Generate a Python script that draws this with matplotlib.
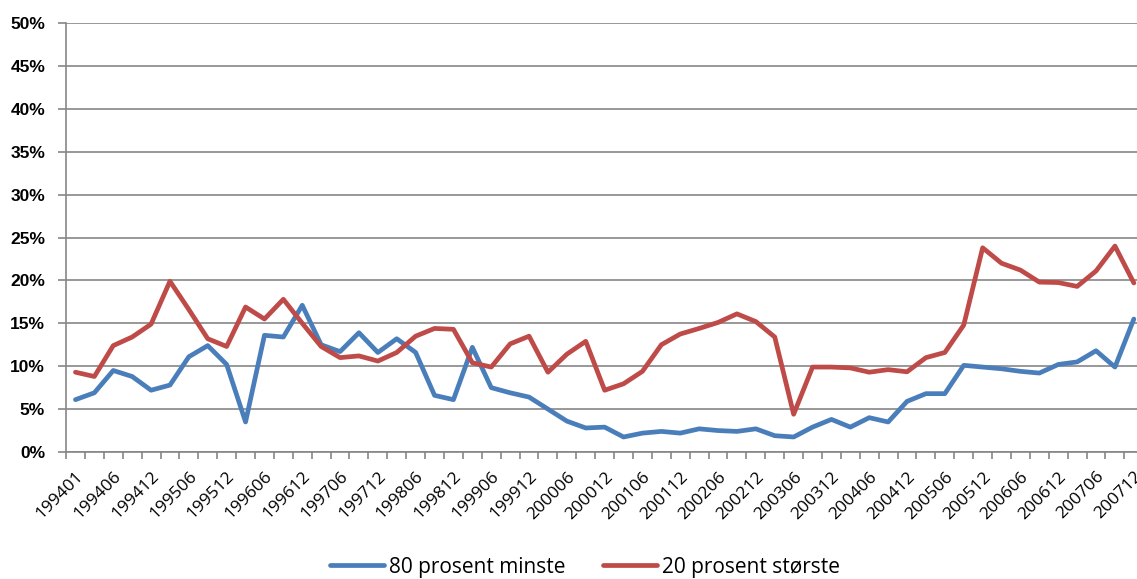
import matplotlib
matplotlib.use("Agg")
import matplotlib.pyplot as plt
import numpy as np

periods = ["199401", "199403", "199406", "199409", "199412"]
for yr in range(1995, 2008):
    for m in ["03", "06", "09", "12"]:
        periods.append(f"{yr}{m}")

small80 = [6.1, 6.9, 9.5, 8.8, 7.2, 7.8, 11.1, 12.4, 10.2, 3.5,
           13.6, 13.4, 17.1, 12.5, 11.7, 13.9, 11.6, 13.2, 11.6, 6.6,
           6.1, 12.2, 7.5, 6.9, 6.4, 5.0, 3.6, 2.8, 2.9, 1.75,
           2.2, 2.4, 2.2, 2.7, 2.5, 2.4, 2.7, 1.9, 1.75, 2.9,
           3.8, 2.9, 4.0, 3.5, 5.9, 6.8, 6.8, 10.1, 9.9, 9.7,
           9.4, 9.2, 10.2, 10.5, 11.8, 9.9, 15.5]
large20 = [9.3, 8.8, 12.4, 13.4, 14.9, 19.9, 16.6, 13.2, 12.3, 16.9,
           15.5, 17.8, 15.0, 12.3, 11.0, 11.2, 10.6, 11.6, 13.5, 14.4,
           14.3, 10.4, 9.9, 12.6, 13.5, 9.3, 11.4, 12.9, 7.2, 7.95,
           9.4, 12.5, 13.75, 14.4, 15.1, 16.1, 15.2, 13.4, 4.4, 9.9,
           9.9, 9.8, 9.3, 9.6, 9.35, 11.0, 11.6, 14.8, 23.8, 22.0,
           21.2, 19.8, 19.75, 19.3, 21.1, 24.0, 19.7]

series_names = ["80 prosent minste", "20 prosent største"]
colors = ["#4A7EBB", "#BE4B48"]
yticks = list(range(0, 55, 5))

W, H = 1137, 579
fig = plt.figure(figsize=(W / 100, H / 100), dpi=100)
n = len(periods)
step = 18.9
left = 66
ax = fig.add_axes([left / W, (H - 452) / H, n * step / W, (452 - 23) / H])

x = np.arange(n)
ax.plot(x, small80, color=colors[0], lw=3.4, label=series_names[0], solid_capstyle="round", solid_joinstyle="round")
ax.plot(x, large20, color=colors[1], lw=3.4, label=series_names[1], solid_capstyle="round", solid_joinstyle="round")

ax.set_xlim(-0.5, n - 0.5)
ax.set_ylim(0, 50)

grid_c = "#868686"
ax.set_yticks(yticks)
ax.set_yticklabels([f"{v}%" for v in yticks], fontweight="bold", fontsize=12.5, family="Liberation Sans")
ax.yaxis.grid(True, color=grid_c, lw=1.2)
ax.set_axisbelow(True)
ax.tick_params(axis="y", length=6, width=1.2, color=grid_c, pad=9)

ax.set_xticks(x[::2])
ax.set_xticklabels(periods[::2], rotation=45, ha="right", rotation_mode="anchor",
                   fontsize=12.5, family="Open Sans")
ax.tick_params(axis="x", which="major", length=0, pad=12)
ax.set_xticks(np.arange(-0.5, n, 1), minor=True)
ax.tick_params(axis="x", which="minor", length=5, width=1.2, color=grid_c)

for s in ["top", "right"]:
    ax.spines[s].set_visible(False)
for s in ["left", "bottom"]:
    ax.spines[s].set_color(grid_c)
    ax.spines[s].set_linewidth(1.2)

fig.legend(loc="center", bbox_to_anchor=(585 / W, 1 - 567 / H), ncol=2, frameon=False,
           prop={"family": "Open Sans", "size": 15}, handlelength=2.6, handletextpad=0.25,
           columnspacing=1.8)

fig.savefig("out.png", dpi=100)
